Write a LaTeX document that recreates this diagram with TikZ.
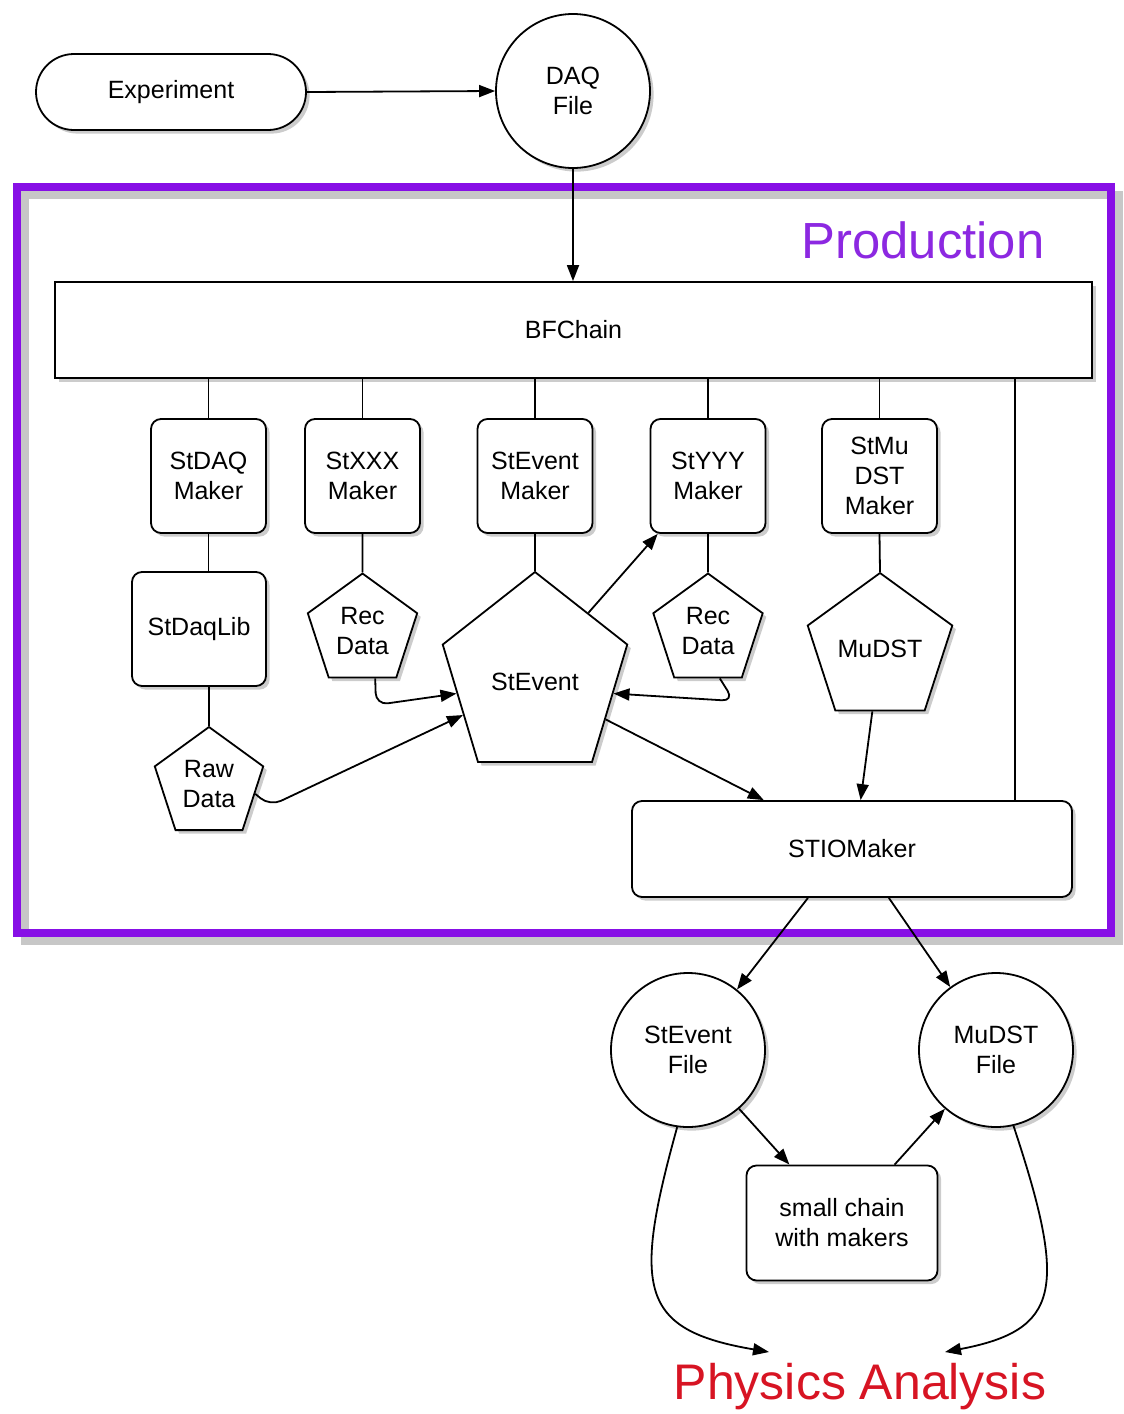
\documentclass[tikz,border=0pt]{standalone}
\usepackage{fontspec}
\setmainfont{Liberation Sans}
\usetikzlibrary{arrows.meta,shapes.geometric,shadows}
\definecolor{framepurple}{RGB}{135,15,230}
\definecolor{prodpurple}{RGB}{140,40,225}
\definecolor{physred}{RGB}{215,20,35}
\begin{document}
\begin{tikzpicture}[x=0.5pt,y=-0.5pt,
  every node/.style={font=\fontsize{12.5}{15}\selectfont, align=center},
  ln/.style={line width=0.9pt},
  arr/.style={line width=0.9pt, -{Triangle[length=8pt,width=6pt]}},
  shad/.style={drop shadow={shadow xshift=1.8pt, shadow yshift=-1.8pt, opacity=0.4}},
  box/.style={draw, line width=0.9pt, fill=white, shad, rounded corners=5pt, inner sep=2pt},
  mk/.style={box, minimum width=57.5pt, minimum height=57pt},
  pent/.style={draw, line width=0.9pt, fill=white, shad, regular polygon, regular polygon sides=5, inner sep=0pt},
  circ/.style={draw, circle, line width=0.9pt, fill=white, shad, minimum size=77pt, inner sep=0pt}
]
\useasboundingbox (0,0) rectangle (1124,1414);

% production frame
\draw[line width=4pt, black!22] (25,195) rectangle (1119,941);
\draw[line width=4pt, framepurple] (17,187) rectangle (1111,933);
\node[text=prodpurple, font=\fontsize{25.4}{30}\selectfont, anchor=base] (prod) at (923,258) {Production};

% nodes
\node[box, rounded corners=19pt, minimum width=135pt, minimum height=38pt] (exp) at (171,92) {Experiment};
\node[circ] (daq) at (573,91) {DAQ\\File};
\node[box, sharp corners, minimum width=518.5pt, minimum height=48pt] (bf) at (573.5,330) {BFChain};

\node[mk] (sdaq) at (208.5,476) {StDAQ\\Maker};
\node[mk] (sxxx) at (362.5,476) {StXXX\\Maker};
\node[mk] (smk)  at (535,476)   {StEvent\\Maker};
\node[mk] (syyy) at (708,476)   {StYYY\\Maker};
\node[mk] (smu)  at (879.5,476) {StMu\\DST\\Maker};

\node[box, minimum width=67pt, minimum height=57pt] (lib) at (199,629) {StDaqLib};
\node[pent, minimum size=57.5pt] (recl) at (362.5,631) {Rec\\Data};
\node[pent, minimum size=57.5pt] (recr) at (708,631) {Rec\\Data};
\node[pent, minimum size=57pt] (rawd) at (209,784) {Raw\\Data};
\begin{scope}[shift={(535,677)}, yscale=1.0825]
  \node[pent, minimum size=97pt, transform shape] (stev) at (0,0) {};
\end{scope}
\node (stevtxt) at (535,682) {StEvent};
\node[pent, minimum size=76pt] (mudst) at (880,649) {MuDST};

\node[box, minimum width=220pt, minimum height=48pt] (stio) at (852,849) {STIOMaker};

\node[circ] (sevf) at (688,1050) {StEvent\\File};
\node[circ] (mdf) at (996,1050) {MuDST\\File};
\node[box, minimum width=95.5pt, minimum height=57.5pt] (small) at (842,1223) {small chain\\with makers};

\node[text=physred, font=\fontsize{25}{30}\selectfont, anchor=base] (phys) at (860,1399) {Physics Analysis};
\coordinate (pa1) at (769,1352);
\coordinate (pa2) at (945,1352);
\coordinate (vx) at (1015,0);

% connectors
\draw[arr] (exp.east) -- (daq.west);
\draw[arr] (daq.south) -- (daq.south |- bf.north);

\draw[ln] (bf.south -| sdaq.north) -- (sdaq.north);
\draw[ln] (bf.south -| sxxx.north) -- (sxxx.north);
\draw[ln] (bf.south -| smk.north) -- (smk.north);
\draw[ln] (bf.south -| syyy.north) -- (syyy.north);
\draw[ln] (bf.south -| smu.north) -- (smu.north);
\draw[ln] (bf.south -| vx) -- (stio.north -| vx);

\draw[ln] (sdaq.south) -- (sdaq.south |- lib.north);
\draw[ln] (lib.south -| rawd.north) -- (rawd.north);
\draw[ln] (sxxx.south) -- (recl.north);
\draw[ln] (smk.south) -- (stev.north);
\draw[ln] (syyy.south) -- (recr.north);
\draw[ln] (smu.south) -- (mudst.north);

\draw[arr, rounded corners=6pt] (rawd.348) -- (270,806) -- (stev.206);
\draw[arr, rounded corners=6pt] (recl.285) -- (376,705) -- (stev.191);
\draw[arr, rounded corners=6pt] (recr.284) -- (734,701) -- (stev.349);
\draw[arr] (stev.48) -- (syyy.229);
\draw[arr] (stev.331) -- (stio.151);
\draw[arr] (mudst.263.5) -- (stio.80.5);

\draw[arr] (stio.228) -- (sevf.51);
\draw[arr] (stio.307.6) -- (mdf.126.4);
\draw[arr] (sevf.311.6) -- (small.132.5);
\draw[arr] (small.48.1) -- (mdf.229);
\draw[arr] (sevf.262) .. controls (632,1290) and (640,1330) .. (pa1);
\draw[arr] (mdf.283) .. controls (1068,1290) and (1060,1330) .. (pa2);
\end{tikzpicture}
\end{document}
